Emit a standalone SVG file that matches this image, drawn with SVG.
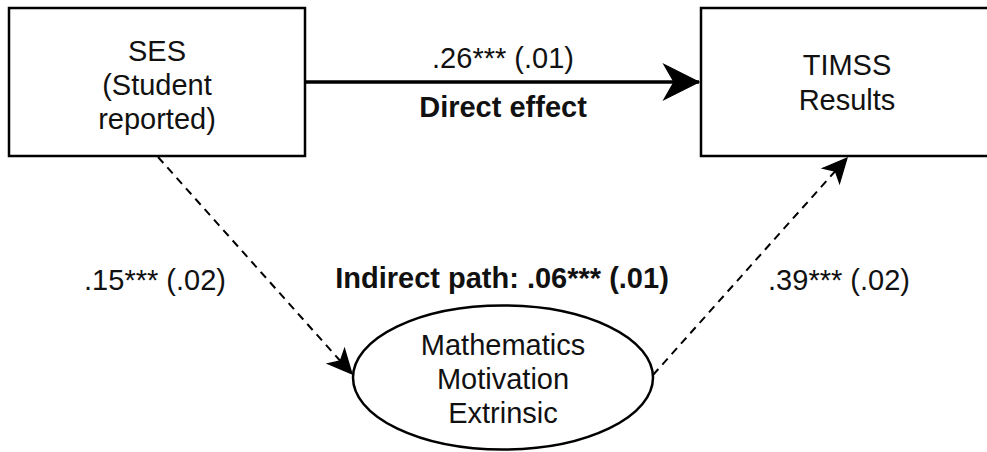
<svg xmlns="http://www.w3.org/2000/svg" width="987" height="452" viewBox="0 0 987 452">
<style>
text{font-family:"Liberation Sans",Arial,Helvetica,sans-serif;font-size:29px;fill:#111;text-anchor:middle}
.b{font-weight:bold}
.box{fill:#fff;stroke:#000;stroke-width:2.5}
.dash{fill:none;stroke:#000;stroke-width:2;stroke-dasharray:8 6}
.solid{fill:none;stroke:#000;stroke-width:3.5}
</style>
<defs>
<marker id="big" markerUnits="userSpaceOnUse" markerWidth="40" markerHeight="40" viewBox="-30 -16 32 32" refX="0" refY="0" orient="auto">
<path d="M0,0 L-28,-14 L-20,0 L-28,14 Z" fill="#000" stroke="#000" stroke-width="1" stroke-linejoin="miter"/>
</marker>
<marker id="small" markerUnits="userSpaceOnUse" markerWidth="30" markerHeight="30" viewBox="-22 -12 24 24" refX="0" refY="0" orient="auto">
<path d="M0,0 L-19,-9 L-14,0 L-19,9 Z" fill="#000" stroke="#000" stroke-width="1" stroke-dasharray="none"/>
</marker>
</defs>
<g id="connectors">
<line class="solid" x1="306" y1="82" x2="699" y2="82" marker-end="url(#big)"/>
<line class="dash" x1="158" y1="157" x2="352" y2="374" marker-end="url(#small)"/>
<line class="dash" x1="653" y1="375" x2="847" y2="158" marker-end="url(#small)"/>
</g>
<g id="ses">
<rect class="box" x="9" y="8" width="296" height="148"/>
<text x="157" y="61">SES</text>
<text x="157" y="95">(Student</text>
<text x="157" y="129">reported)</text>
</g>
<g id="timss">
<rect class="box" x="701" y="8" width="292" height="148"/>
<text x="847" y="75">TIMSS</text>
<text x="847" y="110">Results</text>
</g>
<g id="motivation">
<ellipse class="box" cx="503" cy="377.5" rx="150" ry="72" stroke-width="2"/>
<text x="503" y="355">Mathematics</text>
<text x="503" y="389">Motivation</text>
<text x="503" y="423">Extrinsic</text>
</g>
<g id="labels">
<text x="503" y="68">.26*** (.01)</text>
<text class="b" x="503" y="117">Direct effect</text>
<text x="155" y="290">.15*** (.02)</text>
<text class="b" x="502" y="288">Indirect path: .06*** (.01)</text>
<text x="839" y="290">.39*** (.02)</text>
</g>
</svg>
